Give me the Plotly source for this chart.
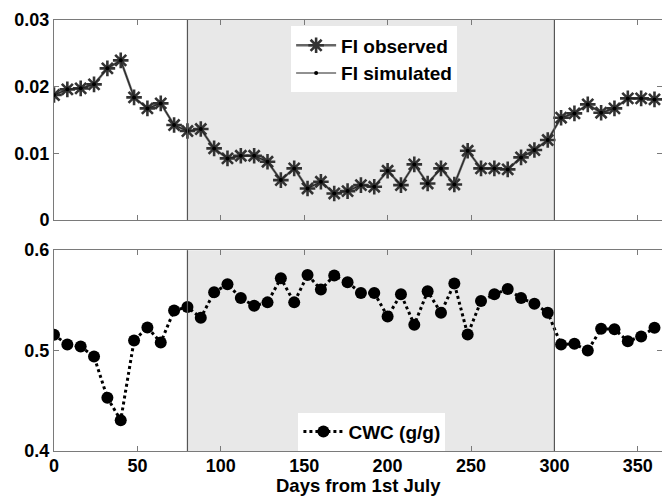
import plotly.graph_objects as go

days = list(range(0, 361, 8))
fi_observed = [0.01875, 0.0196, 0.01975, 0.02035, 0.02275, 0.02395, 0.0184, 0.01675, 0.0175, 0.01425,
               0.01335, 0.01365, 0.01075, 0.00925, 0.00965, 0.00965, 0.00875, 0.0060, 0.00775, 0.00475,
               0.00575, 0.0040, 0.00435, 0.00525, 0.0050, 0.0074, 0.00525, 0.00835, 0.0055, 0.00775,
               0.00535, 0.0104, 0.00775, 0.00775, 0.0076, 0.0094, 0.0105, 0.0120, 0.01535, 0.0160,
               0.01735, 0.0161, 0.01675, 0.01825, 0.01825, 0.0181]
fi_simulated = [0.01875, 0.0196, 0.01975, 0.02035, 0.02275, 0.02395, 0.0184, 0.01675, 0.0175, 0.01425,
                0.01335, 0.01365, 0.01075, 0.00925, 0.00965, 0.00965, 0.00875, 0.0060, 0.00775, 0.00475,
                0.00575, 0.0040, 0.00435, 0.00525, 0.0050, 0.0074, 0.00525, 0.00835, 0.0055, 0.00775,
                0.00535, 0.0104, 0.00775, 0.00775, 0.0076, 0.0094, 0.0105, 0.0120, 0.01535, 0.0160,
                0.01735, 0.0161, 0.01675, 0.01825, 0.01825, 0.0181]
cwc = [0.5157, 0.506, 0.504, 0.494, 0.453, 0.4307, 0.510, 0.523, 0.508, 0.540,
       0.5433, 0.5327, 0.558, 0.566, 0.5523, 0.5447, 0.548, 0.572, 0.548, 0.5753,
       0.5607, 0.5747, 0.568, 0.5573, 0.5573, 0.534, 0.556, 0.5257, 0.559, 0.5377,
       0.5667, 0.516, 0.5493, 0.556, 0.5613, 0.5523, 0.5467, 0.5377, 0.506, 0.5067,
       0.500, 0.5217, 0.5213, 0.5093, 0.514, 0.5227]
shade_start, shade_end = 80, 300
x_ticks = [0, 50, 100, 150, 200, 250, 300, 350]
x_title = "Days from 1st July"

FONT = "Liberation Sans, Arial, sans-serif"
AX = "#7a7a7a"
fig = go.Figure()

fig.add_trace(go.Scatter(x=days, y=fi_observed, mode="lines+markers", name="FI observed",
                         line=dict(color="#666666", width=2.4),
                         marker=dict(symbol="asterisk-open", size=13, color="#333333",
                                     line=dict(color="#333333", width=2.6)),
                         xaxis="x", yaxis="y", legend="legend"))
fig.add_trace(go.Scatter(x=days, y=fi_simulated, mode="lines+markers", name="FI simulated",
                         line=dict(color="#222222", width=1),
                         marker=dict(symbol="circle", size=4, color="black"),
                         xaxis="x", yaxis="y", legend="legend"))
fig.add_trace(go.Scatter(x=days, y=cwc, mode="lines+markers", name="CWC (g/g)",
                         line=dict(color="black", width=3, dash="dot"),
                         marker=dict(symbol="circle", size=12, color="black"),
                         xaxis="x2", yaxis="y2", legend="legend2"))

for yr in ["y", "y2"]:
    fig.add_shape(type="rect", xref="x" if yr == "y" else "x2", yref=yr + " domain",
                  x0=shade_start, x1=shade_end, y0=0, y1=1, fillcolor="#e8e8e8",
                  line=dict(width=0), layer="below")
    for xv in (shade_start, shade_end):
        fig.add_shape(type="line", xref="x" if yr == "y" else "x2", yref=yr + " domain",
                      x0=xv, x1=xv, y0=0, y1=1, line=dict(color="#555555", width=1.2), layer="above")

tickfont = dict(family=FONT, size=18, color="black", weight="bold")
common_x = dict(range=[0, 364.5], tickvals=x_ticks, ticks="inside", ticklen=5, tickcolor=AX,
                showline=True, linecolor=AX, linewidth=1, mirror="ticks", showgrid=False,
                zeroline=False, tickfont=tickfont, automargin=False)
common_y = dict(ticks="inside", ticklen=5, tickcolor=AX, showline=True, linecolor=AX, linewidth=1,
                mirror="ticks", showgrid=False, zeroline=False, tickfont=tickfont, automargin=False)
legfont = dict(family=FONT, size=19, color="black", weight="bold")

fig.add_annotation(text=x_title, xref="paper", yref="paper", x=0.5, y=-0.0795,
                   xanchor="center", yanchor="middle", showarrow=False,
                   font=dict(family=FONT, size=18.5, color="black", weight="bold"))

fig.update_layout(
    width=662, height=496,
    margin=dict(l=54, r=0, t=20, b=45),
    paper_bgcolor="white", plot_bgcolor="white",
    font=dict(family=FONT, color="black"),
    xaxis=dict(**common_x, domain=[0, 1], anchor="y", showticklabels=False),
    yaxis=dict(**common_y, domain=[0.5357, 1], anchor="x", range=[0, 0.03], dtick=0.01),
    xaxis2=dict(**common_x, domain=[0, 1], anchor="y2", ticklabelstandoff=-2),
    yaxis2=dict(**common_y, domain=[0, 0.466], anchor="x2", range=[0.4, 0.6], dtick=0.1),
    legend=dict(x=0.39, y=0.985, xanchor="left", yanchor="top", bgcolor="white",
                borderwidth=0, font=legfont, tracegroupgap=0, itemwidth=40),
    legend2=dict(x=0.402, y=0.089, xanchor="left", yanchor="top", bgcolor="white",
                 borderwidth=0, font=legfont, itemwidth=40),
    showlegend=True,
)

fig.write_html("out.html")
